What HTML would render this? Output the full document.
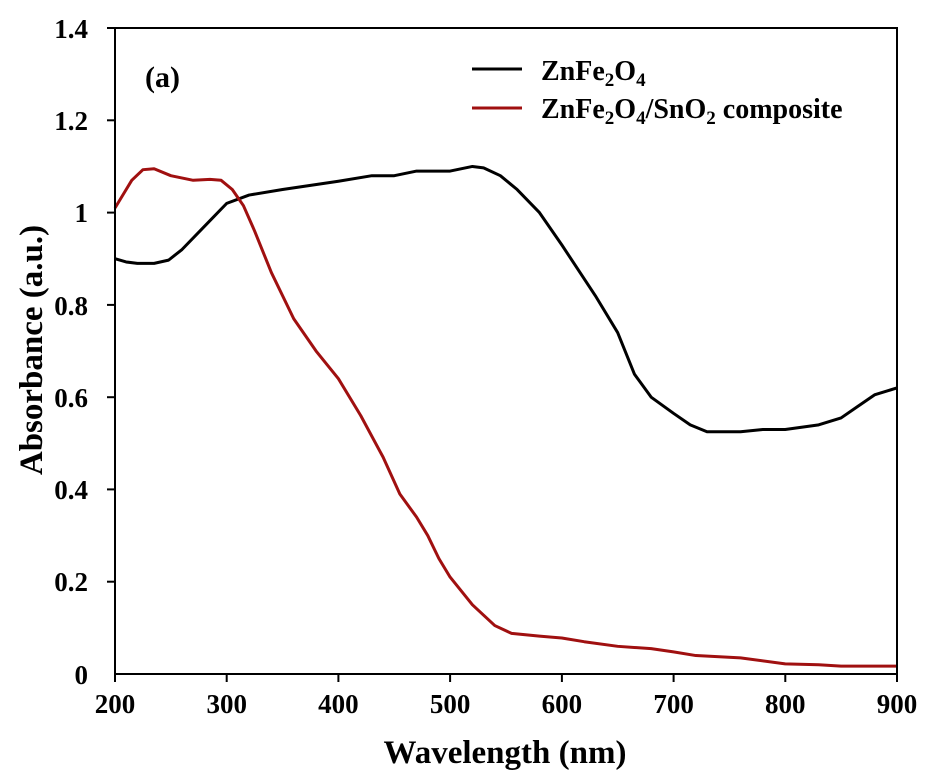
<!DOCTYPE html>
<html><head><meta charset="utf-8"><style>
html,body{margin:0;padding:0;background:#fff;}
svg{display:block;}
text{font-family:"Liberation Serif",serif;font-weight:bold;fill:#000;}
</style></head><body>
<svg width="936" height="779" viewBox="0 0 936 779" xmlns="http://www.w3.org/2000/svg">
<rect x="0" y="0" width="936" height="779" fill="#fff"/>
<g transform="translate(115,674) scale(1.117,-461.4) translate(-200,0)" fill="none">
<polyline vector-effect="non-scaling-stroke" stroke="#000" stroke-width="3" stroke-linejoin="round" points="200,0.90 210,0.893 220,0.89 235,0.89 248,0.897 260,0.92 280,0.97 300,1.02 320,1.038 350,1.05 400,1.068 430,1.08 450,1.08 470,1.09 500,1.09 520,1.10 530,1.097 545,1.08 560,1.05 580,1.00 600,0.93 630,0.82 650,0.74 665,0.65 680,0.60 700,0.565 715,0.54 730,0.525 760,0.525 780,0.53 800,0.53 830,0.54 850,0.555 865,0.58 880,0.605 900,0.62"/>
<polyline vector-effect="non-scaling-stroke" stroke="#a01010" stroke-width="3" stroke-linejoin="round" points="200,1.01 215,1.07 225,1.093 235,1.095 250,1.08 270,1.07 285,1.072 295,1.07 305,1.05 315,1.015 325,0.96 340,0.87 360,0.77 380,0.70 400,0.64 420,0.56 440,0.47 455,0.39 470,0.34 480,0.30 490,0.25 500,0.21 520,0.15 540,0.105 555,0.088 580,0.082 600,0.078 620,0.07 650,0.06 680,0.055 700,0.048 720,0.04 760,0.035 800,0.022 830,0.02 850,0.017 900,0.017"/>
</g>
<rect x="115" y="28" width="782" height="646" fill="none" stroke="#000" stroke-width="2"/>
<g stroke="#000" stroke-width="2">
<line x1="115" y1="674" x2="115" y2="682"/><line x1="226.7" y1="674" x2="226.7" y2="682"/><line x1="338.4" y1="674" x2="338.4" y2="682"/><line x1="450.1" y1="674" x2="450.1" y2="682"/><line x1="561.9" y1="674" x2="561.9" y2="682"/><line x1="673.6" y1="674" x2="673.6" y2="682"/><line x1="785.3" y1="674" x2="785.3" y2="682"/><line x1="897" y1="674" x2="897" y2="682"/>
<line x1="107" y1="28" x2="115" y2="28"/><line x1="107" y1="120.3" x2="115" y2="120.3"/><line x1="107" y1="212.6" x2="115" y2="212.6"/><line x1="107" y1="304.9" x2="115" y2="304.9"/><line x1="107" y1="397.2" x2="115" y2="397.2"/><line x1="107" y1="489.4" x2="115" y2="489.4"/><line x1="107" y1="581.7" x2="115" y2="581.7"/>
</g>
<g font-size="27" text-anchor="middle">
<text x="115" y="713">200</text><text x="226.7" y="713">300</text><text x="338.4" y="713">400</text><text x="450.1" y="713">500</text><text x="561.9" y="713">600</text><text x="673.6" y="713">700</text><text x="785.3" y="713">800</text><text x="897" y="713">900</text>
</g>
<g font-size="27" text-anchor="end">
<text x="88" y="38">1.4</text><text x="88" y="130">1.2</text><text x="88" y="222">1</text><text x="88" y="315">0.8</text><text x="88" y="407">0.6</text><text x="88" y="499">0.4</text><text x="88" y="591">0.2</text><text x="88" y="684">0</text>
</g>
<text x="505" y="763" font-size="33" text-anchor="middle">Wavelength (nm)</text>
<text transform="translate(42,350) rotate(-90)" font-size="33" text-anchor="middle">Absorbance (a.u.)</text>
<text x="145" y="87" font-size="30">(a)</text>
<line x1="472" y1="69" x2="522" y2="69" stroke="#000" stroke-width="3"/>
<line x1="472" y1="108" x2="522" y2="108" stroke="#a01010" stroke-width="3"/>
<text x="541" y="80" font-size="28">ZnFe<tspan font-size="19" dy="6">2</tspan><tspan dy="-6">O</tspan><tspan font-size="19" dy="6">4</tspan></text>
<text x="541" y="118" font-size="28">ZnFe<tspan font-size="19" dy="6">2</tspan><tspan dy="-6">O</tspan><tspan font-size="19" dy="6">4</tspan><tspan dy="-6">/SnO</tspan><tspan font-size="19" dy="6">2</tspan><tspan dy="-6"> composite</tspan></text>
</svg>
</body></html>
